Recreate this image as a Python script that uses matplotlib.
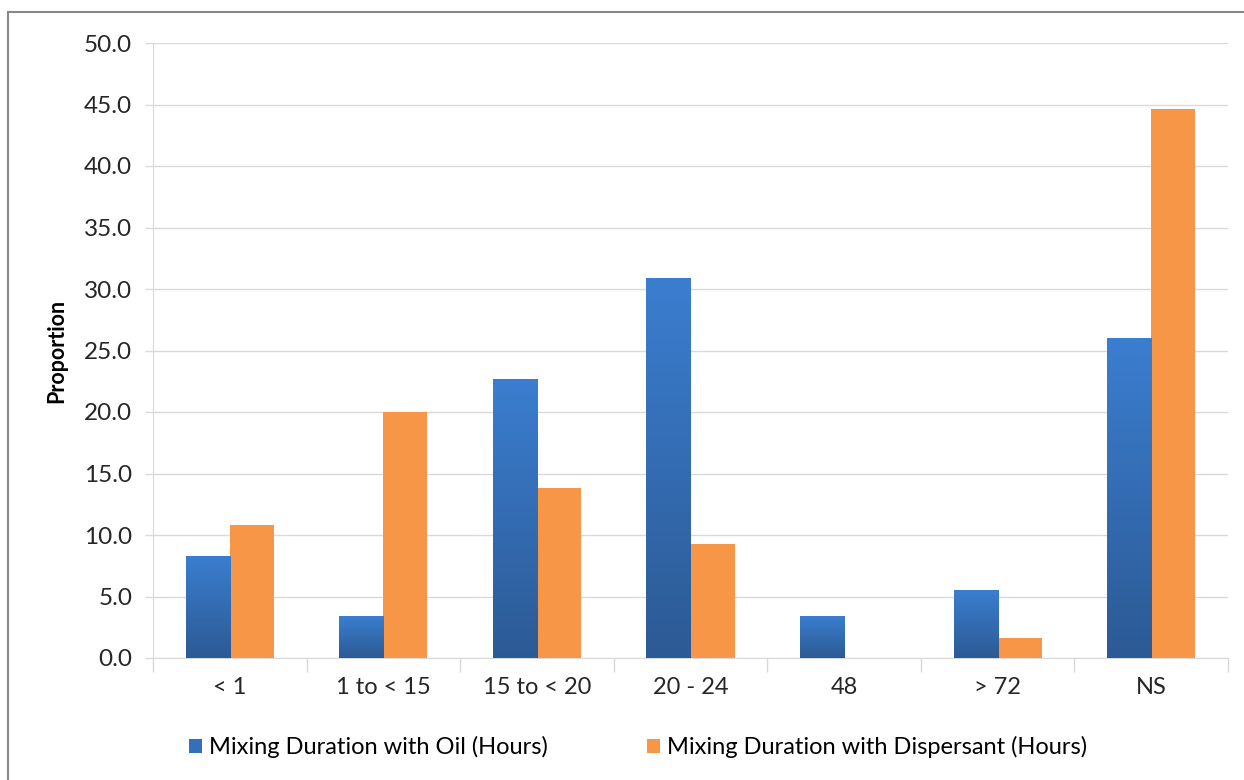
import numpy as np
import matplotlib
matplotlib.use("Agg")
from matplotlib import pyplot as plt
from matplotlib.colors import LinearSegmentedColormap
from matplotlib.patches import Rectangle, Patch

categories = ['< 1', '1 to < 15', '15 to < 20', '20 - 24', '48', '> 72', 'NS']
oil = [8.3, 3.4, 22.7, 30.9, 3.4, 5.5, 26.0]
dispersant = [10.8, 20.0, 13.8, 9.3, 0.0, 1.6, 44.6]
yticks = [0, 5, 10, 15, 20, 25, 30, 35, 40, 45, 50]

plt.rcParams['font.family'] = ['Lato', 'DejaVu Sans']

fig = plt.figure(figsize=(12.44, 7.8), dpi=100)
ax = fig.add_axes([153 / 1244, 1 - 658 / 780, (1228 - 153) / 1244, (658 - 43) / 780])

# thin grey frame around the chart area
fig.patches.append(Rectangle((8 / 1244, -0.01), 1.2, 1 - 12 / 780 + 0.01,
                             transform=fig.transFigure, fill=False,
                             edgecolor='#878787', linewidth=1.5))

x = np.arange(len(categories))
w = 0.287
blue_bars = ax.bar(x - w / 2, oil, w, color='#3470BA', zorder=2)
orange_bars = ax.bar(x + w / 2, dispersant, w, color='#F79646', zorder=2)

# vertical gradient on the blue bars (lighter at the top)
cmap = LinearSegmentedColormap.from_list('bl', ['#2C5A94', '#3B7ED0'])
grad = np.linspace(0, 1, 256).reshape(-1, 1)
for b in blue_bars:
    h = b.get_height()
    if h <= 0:
        continue
    im = ax.imshow(grad, cmap=cmap, aspect='auto', origin='lower',
                   extent=[b.get_x(), b.get_x() + b.get_width(), 0, h], zorder=3)
    im.set_clip_path(b)

ax.set_xlim(-0.5, len(categories) - 0.5)
ax.set_ylim(0, 50)
ax.set_yticks(yticks)
ax.set_yticklabels([f'{v:.1f}' for v in yticks], fontsize=17.5, color='#262626')
ax.set_xticks(x)
ax.set_xticklabels(categories, fontsize=17, color='#262626')
ax.set_xticks(np.arange(-0.5, len(categories)), minor=True)
ax.tick_params(axis='x', which='major', length=0, pad=14)
ax.tick_params(axis='x', which='minor', length=10, color='#D9D9D9', width=1)
ax.tick_params(axis='y', length=6, color='#D9D9D9', width=1, pad=9)

ax.yaxis.grid(True, color='#D9D9D9', linewidth=1)
ax.set_axisbelow(True)
for s in ['top', 'right']:
    ax.spines[s].set_visible(False)
ax.spines['left'].set_color('#D9D9D9')
ax.spines['bottom'].set_color('#D9D9D9')

ax.set_ylabel('Proportion', fontsize=15.5, fontweight='bold', labelpad=12)

handles = [Patch(facecolor='#3470BA', label='Mixing Duration with Oil (Hours)'),
           Patch(facecolor='#F79646', label='Mixing Duration with Dispersant (Hours)')]
fig.legend(handles=handles, loc='center', bbox_to_anchor=(0.513, 1 - 747 / 780),
           ncol=2, frameon=False, fontsize=17, handlelength=0.55, handleheight=0.55,
           handletextpad=0.3, columnspacing=4.2)

fig.savefig('out.png', dpi=100)
